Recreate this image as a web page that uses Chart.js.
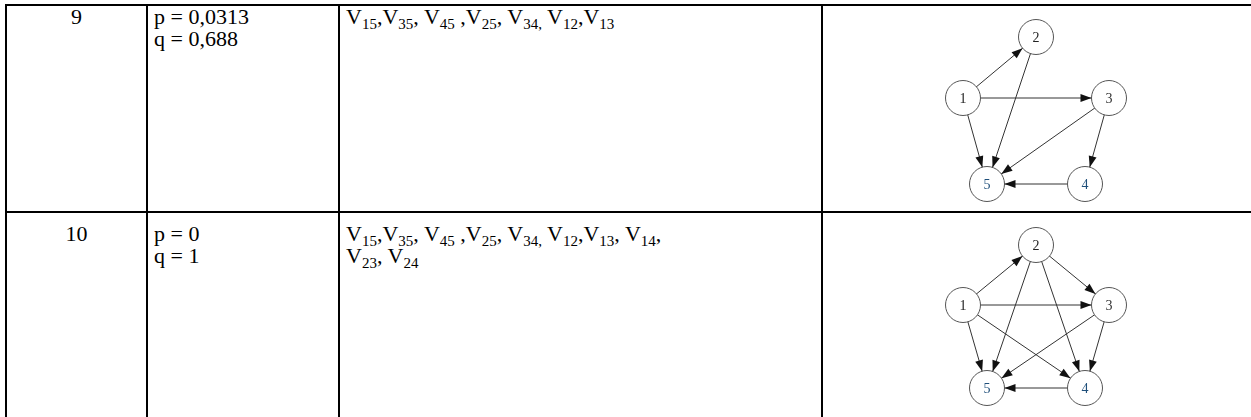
<!DOCTYPE html>
<html>
<head>
<meta charset="utf-8">
<script src="https://cdn.jsdelivr.net/npm/chart.js@4.4.1/dist/chart.umd.min.js"></script>
<style>
    html, body { margin: 0; padding: 0; background: #fff; }
    body { width: 1251px; height: 417px; position: relative; overflow: hidden;
           font-family: "Liberation Serif", "Times New Roman", serif; font-size: 22px; color: #000; }
    .ln { position: absolute; background: #000; }
    .txt { position: absolute; line-height: 22px; white-space: nowrap; }
    .txt sub { font-size: 15px; vertical-align: -5px; line-height: 0; }
    .graph { position: absolute; width: 270px; height: 204px; }
</style>
</head>
<body>
<!-- table lines -->
<div class="ln" style="left:5px; top:4px; width:1246px; height:2px;"></div>
<div class="ln" style="left:5px; top:211px; width:1246px; height:2px;"></div>
<div class="ln" style="left:5px; top:4px; width:2px; height:413px;"></div>
<div class="ln" style="left:146px; top:4px; width:2px; height:413px;"></div>
<div class="ln" style="left:338px; top:4px; width:2px; height:413px;"></div>
<div class="ln" style="left:821px; top:4px; width:2px; height:413px;"></div>

<div id="cells"></div>

<div class="graph" style="left:900px; top:7px;"><canvas id="graph9"></canvas></div>
<div class="graph" style="left:900px; top:215px;"><canvas id="graph10"></canvas></div>

<script>
// --- Data ---
const rowNumbers = ['9', '10'];
const pValues = ['0,0313', '0'];
const qValues = ['0,688', '1'];

// arc lists (from -> to), in the order they are written in the table
const edges9 = [[1, 5], [3, 5], [4, 5], [2, 5], [3, 4], [1, 2], [1, 3]];
const edges10 = [[1, 5], [3, 5], [4, 5], [2, 5], [3, 4], [1, 2], [1, 3], [1, 4], [2, 3], [2, 4]];

// node layout (units of 10 px), nodes 1..5
const nodeLabels = ['1', '2', '3', '4', '5'];
const nodeX = [-7.3, 0, 7.3, 4.9, -4.9];
const nodeY9 = [6.1, 0, 6.1, 14.7, 14.7];
const nodeY10 = [6.0, 0, 6.0, 14.3, 14.3];
const nodeLabelColors = ['#222', '#222', '#333', '#1f4f7a', '#1f4f7a'];

const NODE_R = 17.5;

// --- Table text ---
function edgeText(edges) {
    return edges.map(e => `V<sub>${e[0]}${e[1]}</sub>`);
}

const rowTops = [6, 223];
const cells = document.getElementById('cells');
rowNumbers.forEach((num, i) => {
    const top = rowTops[i];
    cells.insertAdjacentHTML('beforeend',
        `<div class="txt" style="left:7px; width:139px; text-align:center; top:${top}px;">${num}</div>` +
        `<div class="txt" style="left:154px; top:${top}px;">p = ${pValues[i]}<br>q = ${qValues[i]}</div>`);
});

// V lists, keeping the original spacing quirks
const v9 = edgeText(edges9);
const v10 = edgeText(edges10);
cells.insertAdjacentHTML('beforeend',
    `<div class="txt" style="left:346px; top:${rowTops[0]}px;">${v9[0]},${v9[1]}, ${v9[2]} ,${v9[3]}, ${v9[4]}<sub>,</sub> ${v9[5]},${v9[6]}</div>`);
cells.insertAdjacentHTML('beforeend',
    `<div class="txt" style="left:346px; top:${rowTops[1]}px;">${v10[0]},${v10[1]}, ${v10[2]} ,${v10[3]}, ${v10[4]}<sub>,</sub> ${v10[5]},${v10[6]}, ${v10[7]},<br>${v10[8]}, ${v10[9]}</div>`);

// --- Graph drawing ---
const arrowPlugin = {
    id: 'arrows',
    afterDatasetsDraw(chart) {
        const { ctx, scales } = chart;
        const cfg = chart.options.plugins.arrows;
        const px = i => scales.x.getPixelForValue(nodeX[i]);
        const py = i => scales.y.getPixelForValue(cfg.nodeY[i]);
        ctx.save();
        ctx.fillStyle = '#111';
        cfg.edges.forEach(([a, b]) => {
            const x1 = px(a - 1), y1 = py(a - 1), x2 = px(b - 1), y2 = py(b - 1);
            const len = Math.hypot(x2 - x1, y2 - y1);
            const ux = (x2 - x1) / len, uy = (y2 - y1) / len;
            const tx = x2 - ux * NODE_R, ty = y2 - uy * NODE_R;
            const bx = tx - ux * 11, by = ty - uy * 11;
            ctx.beginPath();
            ctx.moveTo(tx, ty);
            ctx.lineTo(bx - uy * 4, by + ux * 4);
            ctx.lineTo(bx + uy * 4, by - ux * 4);
            ctx.closePath();
            ctx.fill();
        });
        // node labels
        ctx.font = '14px "Liberation Serif", serif';
        ctx.textAlign = 'center';
        ctx.textBaseline = 'middle';
        nodeLabels.forEach((lbl, i) => {
            ctx.fillStyle = nodeLabelColors[i];
            ctx.fillText(lbl, px(i), py(i) + 1);
        });
        ctx.restore();
    }
};

function makeGraph(canvasId, edges, nodeY) {
    const datasets = edges.map(([a, b]) => ({
        data: [{ x: nodeX[a - 1], y: nodeY[a - 1] }, { x: nodeX[b - 1], y: nodeY[b - 1] }],
        showLine: true,
        borderColor: '#333',
        borderWidth: 1,
        pointRadius: 0,
        order: 2
    }));
    datasets.push({
        data: nodeLabels.map((_, i) => ({ x: nodeX[i], y: nodeY[i] })),
        showLine: false,
        pointRadius: NODE_R,
        pointBackgroundColor: '#fff',
        pointBorderColor: '#555',
        pointBorderWidth: 1,
        order: 1
    });

    new Chart(document.getElementById(canvasId), {
        type: 'scatter',
        data: { datasets },
        options: {
            responsive: true,
            maintainAspectRatio: false,
            animation: false,
            events: [],
            layout: { padding: 0, autoPadding: false },
            scales: {
                x: { display: false, min: -13.6, max: 13.4 },
                y: { display: false, reverse: true, min: -3, max: 17.4 }
            },
            plugins: {
                legend: { display: false },
                tooltip: { enabled: false },
                arrows: { edges, nodeY }
            }
        },
        plugins: [arrowPlugin]
    });
}

makeGraph('graph9', edges9, nodeY9);
makeGraph('graph10', edges10, nodeY10);
</script>
</body>
</html>
